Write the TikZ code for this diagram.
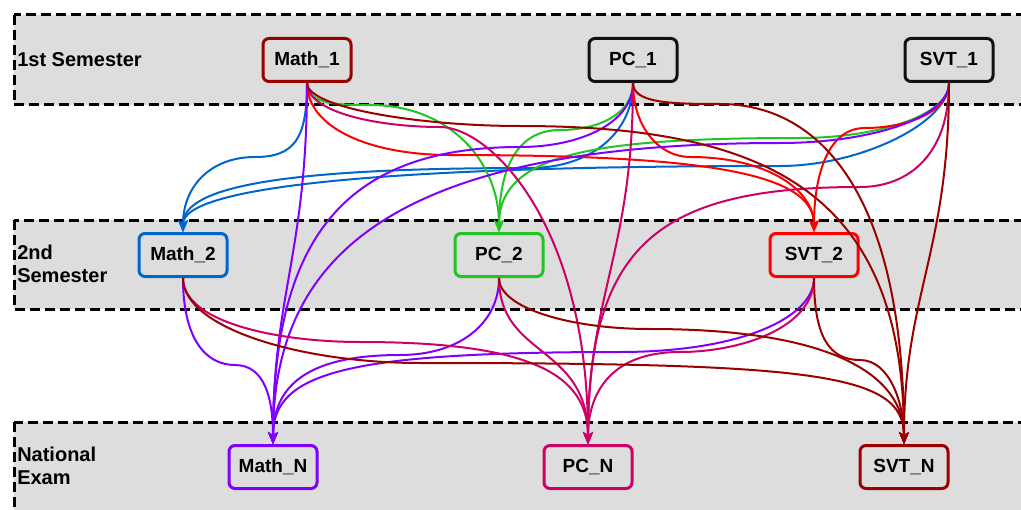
\documentclass[tikz,border=0pt]{standalone}
\usepackage{fontspec}
\setmainfont{Liberation Sans}
\usetikzlibrary{arrows.meta}

\definecolor{bandgray}{HTML}{DDDDDD}
\definecolor{cdred}{HTML}{990000}
\definecolor{cblue}{HTML}{0066CC}
\definecolor{cgreen}{HTML}{22C422}
\definecolor{cred}{HTML}{FF0000}
\definecolor{cpurple}{HTML}{7F00FF}
\definecolor{cmag}{HTML}{CC0066}
\definecolor{cblack}{HTML}{111111}

\tikzset{
  band/.style={fill=bandgray, draw=black, line width=2.25pt, dash pattern=on 7.5pt off 3.75pt},
  subj/.style={draw=#1, fill=bandgray, line width=2.25pt, rounded corners=4.5pt,
    minimum width=66pt, minimum height=32.25pt, inner sep=0pt,
    font=\fontsize{14.25}{17}\selectfont\bfseries, text=black},
  rowlabel/.style={anchor=west, align=left, inner sep=0pt,
    font=\fontsize{15}{17.25}\selectfont\bfseries},
  link/.style={draw=#1, line width=1.5pt, -{Stealth[length=9pt,width=7.5pt,inset=2.5pt]}},
}

\begin{document}
\begin{tikzpicture}[x=0.75pt,y=-0.75pt]
\useasboundingbox (0,0) rectangle (1021,510);
\clip (0,0) rectangle (1021,510);

% semester bands
\path[band] (14,15) rectangle (1045,105);
\path[band] (14,220) rectangle (1045,309);
\path[band] (14,422) rectangle (1045,513);

\node[rowlabel] (L1) at (17,60) {1st Semester};
\node[rowlabel] (L2) at (17,264) {2nd\\Semester};
\node[rowlabel] (L3) at (17,466) {National\\Exam};

% subjects
\node[subj=cdred]   (M1) at (307,60)  {Math\_1};
\node[subj=cblack]  (P1) at (633,60)  {PC\_1};
\node[subj=cblack]  (S1) at (949,60)  {SVT\_1};
\node[subj=cblue]   (M2) at (183,255) {Math\_2};
\node[subj=cgreen]  (P2) at (499,255) {PC\_2};
\node[subj=cred]    (S2) at (814,255) {SVT\_2};
\node[subj=cpurple] (MN) at (273,467) {Math\_N};
\node[subj=cmag]    (PN) at (588,467) {PC\_N};
\node[subj=cdred]   (SN) at (904,467) {SVT\_N};

% first semester -> second semester
\draw[link=cblue] (M1.south) .. controls +(0,55) and +(40,0) .. (255,157) .. controls +(-45,0) and +(0,-45) .. (M2.north);
\draw[link=cblue] (P1.south) .. controls +(0,50) and +(60,0) .. (530,168) .. controls +(-250,0) and +(0,-45) .. (M2.north);
\draw[link=cblue] (S1.south) .. controls +(0,40) and +(80,0) .. (780,166) .. controls +(-400,0) and +(0,-45) .. (M2.north);

\draw[link=cgreen] (M1.south) .. controls +(0,22) and +(-30,0) .. (370,105) .. controls +(80,0) and +(0,-70) .. (P2.north);
\draw[link=cgreen] (P1.south) .. controls +(0,30) and +(40,0) .. (560,130) .. controls +(-45,0) and +(0,-60) .. (P2.north);
\draw[link=cgreen] (S1.south) .. controls +(0,35) and +(70,0) .. (800,138) .. controls +(-200,0) and +(0,-80) .. (P2.north);

\draw[link=cred] (M1.south) .. controls +(0,45) and +(-80,0) .. (450,155) .. controls +(250,0) and +(0,-60) .. (S2.north);
\draw[link=cred] (P1.south) .. controls +(0,45) and +(-30,0) .. (690,157) .. controls +(80,0) and +(0,-40) .. (S2.north);
\draw[link=cred] (S1.south) .. controls +(0,30) and +(40,0) .. (865,128) .. controls +(-40,0) and +(0,-50) .. (S2.north);

% first semester -> national exam
\draw[link=cpurple] (M1.south) .. controls +(0,170) and +(0,-150) .. (MN.north);
\draw[link=cpurple] (P1.south) .. controls +(0,40) and +(60,0) .. (520,147) .. controls +(-180,0) and +(0,-200) .. (MN.north);
\draw[link=cpurple] (S1.south) .. controls +(0,35) and +(90,0) .. (780,143) .. controls +(-400,0) and +(0,-180) .. (MN.north);

\draw[link=cmag] (M1.south) .. controls +(0,30) and +(-60,0) .. (440,127) .. controls +(50,0) and +(0,-220) .. (PN.north);
\draw[link=cmag] (P1.south) .. controls +(0,170) and +(0,-150) .. (PN.north);
\draw[link=cmag] (S1.south) .. controls +(0,70) and +(50,0) .. (860,187) .. controls +(-200,0) and +(0,-200) .. (PN.north);

\draw[link=cdred] (M1.south) .. controls +(0,25) and +(-100,0) .. (520,126) .. controls +(250,0) and +(0,-250) .. (SN.north);
\draw[link=cdred] (P1.south) .. controls +(0,20) and +(-50,0) .. (720,104) .. controls +(100,0) and +(0,-250) .. (SN.north);
\draw[link=cdred] (S1.south) .. controls +(0,170) and +(0,-150) .. (SN.north);

% second semester -> national exam
\draw[link=cpurple] (M2.south) .. controls +(0,60) and +(-30,0) .. (235,365) .. controls +(30,0) and +(0,-45) .. (MN.north);
\draw[link=cpurple] (P2.south) .. controls +(0,45) and +(60,0) .. (400,355) .. controls +(-90,0) and +(0,-60) .. (MN.north);
\draw[link=cpurple] (S2.south) .. controls +(0,40) and +(120,0) .. (620,352) .. controls +(-280,0) and +(0,-70) .. (MN.north);

\draw[link=cmag] (M2.south) .. controls +(0,45) and +(-80,0) .. (360,342) .. controls +(170,0) and +(0,-70) .. (PN.north);
\draw[link=cmag] (P2.south) .. controls +(0,80) and +(0,-100) .. (PN.north);
\draw[link=cmag] (S2.south) .. controls +(0,50) and +(60,0) .. (680,352) .. controls +(-70,0) and +(0,-50) .. (PN.north);

\draw[link=cdred] (M2.south) .. controls +(0,50) and +(-120,0) .. (420,363) .. controls +(400,0) and +(0,-70) .. (SN.north);
\draw[link=cdred] (P2.south) .. controls +(0,30) and +(-80,0) .. (650,329) .. controls +(180,0) and +(0,-70) .. (SN.north);
\draw[link=cdred] (S2.south) .. controls +(0,60) and +(-30,0) .. (860,360) .. controls +(30,0) and +(0,-40) .. (SN.north);
\end{tikzpicture}
\end{document}
